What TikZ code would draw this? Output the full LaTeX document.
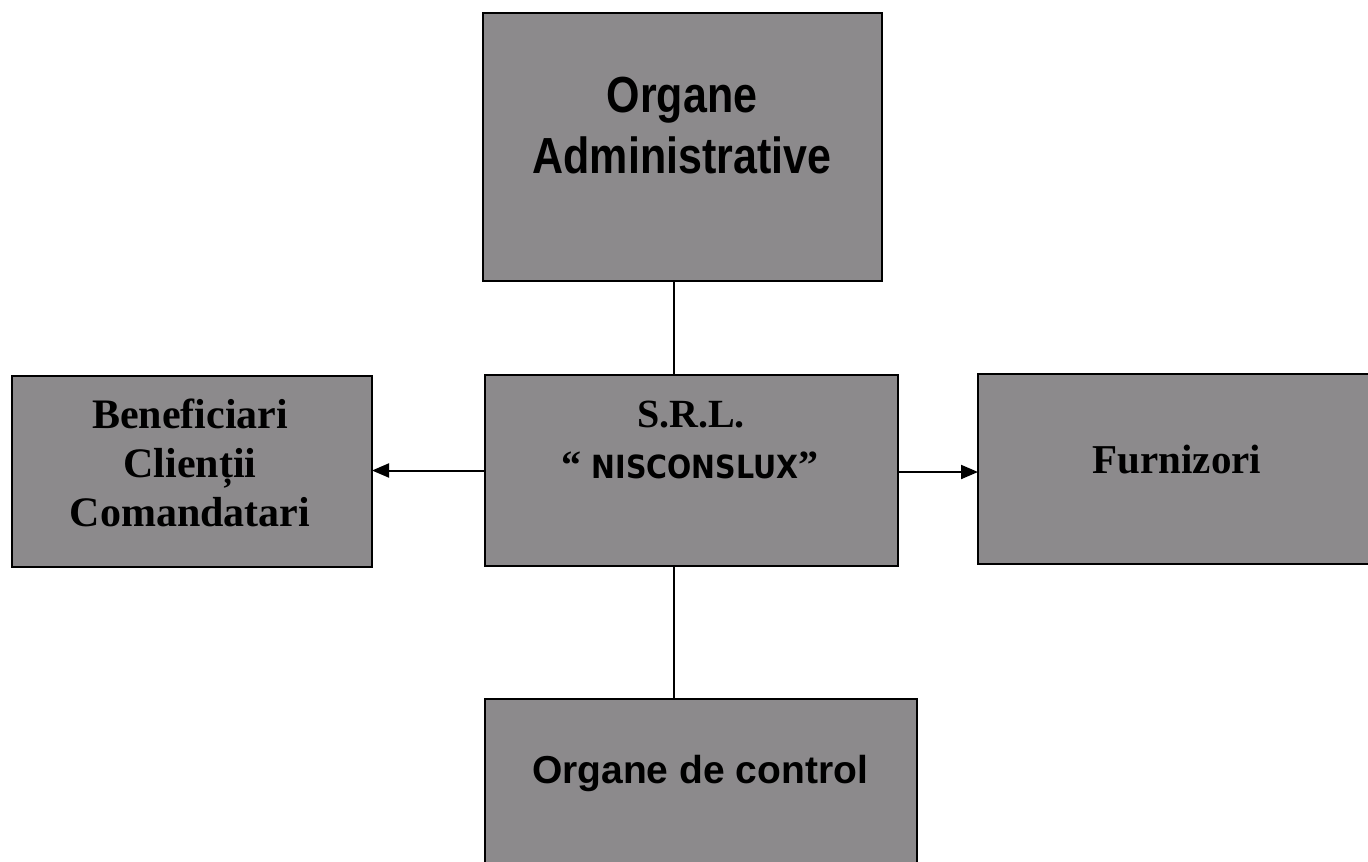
\documentclass[tikz,border=0pt]{standalone}
\usepackage{fontspec}
\setmainfont{Liberation Serif}
\newfontfamily\arialf{Liberation Sans}
\newfontfamily\verdf{DejaVu Sans}
\usetikzlibrary{arrows.meta}
\definecolor{boxgray}{RGB}{140,138,140}
\tikzset{
  box/.style={draw=black, line width=2pt, fill=boxgray, inner sep=0pt, outer sep=0pt},
  conn/.style={draw=black, line width=2pt},
  arr/.style={conn, -{Triangle[length=17pt,width=14pt]}},
  txt/.style={inner sep=0pt, anchor=base, align=center, text=black}
}
\begin{document}
\begin{tikzpicture}[x=1pt,y=-1pt]
\useasboundingbox (0,0) rectangle (1368,862);
\fill[white] (0,0) rectangle (1368,862);
\clip (0,0) rectangle (1368,862);
% boxes
\node[box, minimum width=399pt, minimum height=268pt] (top) at (682.5,147) {};
\node[box, minimum width=360pt, minimum height=191pt] (left) at (192,471.5) {};
\node[box, minimum width=413pt, minimum height=191pt] (ctr) at (691.5,470.5) {};
\node[box, minimum width=402pt, minimum height=190pt] (right) at (1179,469) {};
\node[box, minimum width=432pt, minimum height=181pt] (bot) at (701,789.5) {};
% texts
\node[txt, font=\arialf\bfseries\fontsize{43}{61}\selectfont] (ttop1) at (682,112) {\scalebox{1}[1.18]{Organe}};
\node[txt, font=\arialf\bfseries\fontsize{43}{61}\selectfont] (ttop2) at (682,173) {\scalebox{1}[1.18]{Administrative}};
\node[txt, font=\bfseries\fontsize{42}{49}\selectfont] (tleft) at (190,526) {Beneficiari\\Clienții\\Comandatari};
\node[txt, font=\bfseries\fontsize{40}{51}\selectfont] (tctr1) at (691,427) {S.R.L.};
\node[txt, font=\bfseries\fontsize{40}{51}\selectfont] (tctr2) at (690,478) {“ {\verdf\bfseries\fontsize{28.5}{30}\selectfont\scalebox{1}[1.12]{NISCONSLUX}}”};
\node[txt, font=\bfseries\fontsize{41}{49}\selectfont] (tright) at (1177,473) {Furnizori};
\node[txt, font=\arialf\bfseries\fontsize{39}{45}\selectfont] (tbot) at (700,783) {Organe de control};
% connectors
\coordinate (vx) at (673.5,0);
\coordinate (ly) at (0,470.5);
\coordinate (ry) at (0,472);
\draw[conn] (top.south -| vx) -- (ctr.north -| vx);
\draw[conn] (ctr.south -| vx) -- (bot.north -| vx);
\draw[arr] (ctr.west |- ly) -- (left.east |- ly);
\draw[arr] (ctr.east |- ry) -- (right.west |- ry);
\end{tikzpicture}
\end{document}
